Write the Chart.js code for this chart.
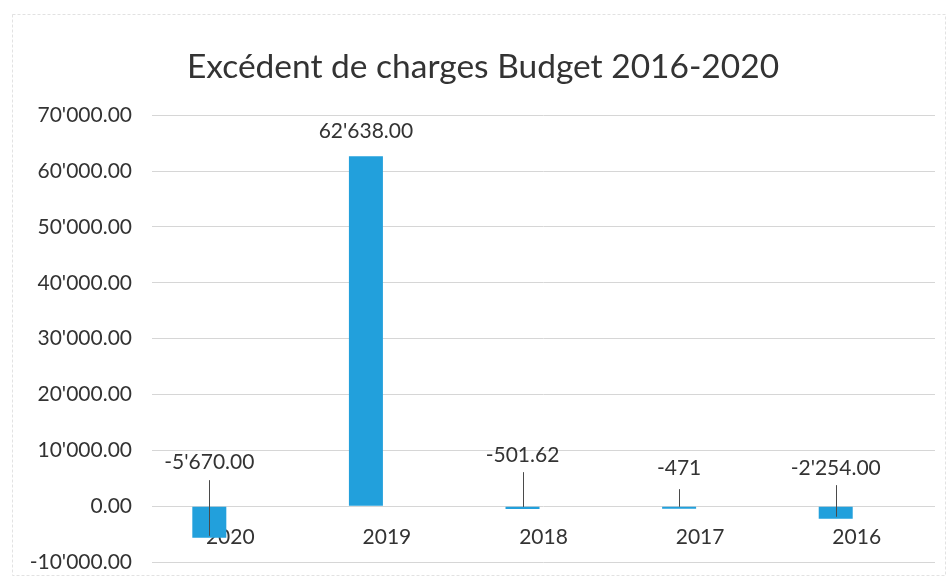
<!DOCTYPE html>
<html>
<head>
<meta charset="utf-8">
<script src="https://cdn.jsdelivr.net/npm/chart.js@4"></script>
<style>
  html, body { margin: 0; padding: 0; background: #ffffff; }
  #wrap { width: 950px; height: 583px; }
</style>
</head>
<body>
<div id="wrap"><canvas id="c" width="950" height="583"></canvas></div>
<script>
// ---- data ----
const categories = ['2020', '2019', '2018', '2017', '2016'];
const values = [-5670, 62638, -501.62, -471, -2254];
const valueLabels = ["-5'670.00", "62'638.00", "-501.62", "-471", "-2'254.00"];
const yMin = -10000;
const yMax = 70000;
const yStep = 10000;
const titleText = 'Excédent de charges Budget 2016-2020';

// ---- style ----
const barColor = '#22A0DC';
const textColor = '#333333';
const gridColor = '#d6d6d6';
const labelLift = [44, 25, 51, 38, 38];
const leaderGap = [18, 0, 17, 21, 17];
const hasLeader = [true, false, true, true, true];

function fmt(v) {
  const neg = v < 0;
  const s = Math.abs(v).toFixed(2);
  let [i, d] = s.split('.');
  i = i.replace(/\B(?=(\d{3})+(?!\d))/g, "'");
  return (neg ? '-' : '') + i + '.' + d;
}

const framePlugin = {
  id: 'frame',
  beforeDraw(chart) {
    const ctx = chart.ctx;
    ctx.save();
    ctx.fillStyle = '#ffffff';
    ctx.fillRect(0, 0, chart.width, chart.height);
    ctx.strokeStyle = '#e2e2e2';
    ctx.lineWidth = 1;
    ctx.setLineDash([3, 2]);
    ctx.strokeRect(12.5, 14.5, 933, 561);
    ctx.restore();
  }
};

const labelPlugin = {
  id: 'valueLabels',
  afterDatasetsDraw(chart) {
    const ctx = chart.ctx;
    const meta = chart.getDatasetMeta(0);
    const y = chart.scales.y;
    ctx.save();
    ctx.font = '21px Lato';
    ctx.fillStyle = textColor;
    ctx.textAlign = 'center';
    ctx.textBaseline = 'middle';
    ctx.strokeStyle = '#4a4a4a';
    ctx.lineWidth = 1;
    meta.data.forEach((bar, i) => {
      const base = y.getPixelForValue(Math.max(values[i], 0));
      const ly = base - labelLift[i];
      ctx.fillText(valueLabels[i], bar.x, ly);
      if (hasLeader[i]) {
        const end = y.getPixelForValue(values[i]) - 2;
        ctx.beginPath();
        ctx.moveTo(Math.round(bar.x) + 0.5, ly + leaderGap[i]);
        ctx.lineTo(Math.round(bar.x) + 0.5, end);
        ctx.stroke();
      }
    });
    ctx.restore();
  }
};

new Chart(document.getElementById('c'), {
  type: 'bar',
  data: {
    labels: categories,
    datasets: [
      {
        label: 'Excédent de charges',
        data: values,
        backgroundColor: barColor,
        borderWidth: 0,
        categoryPercentage: 0.536,
        barPercentage: 0.81
      },
      {
        label: '',
        data: categories.map(() => null),
        backgroundColor: barColor,
        categoryPercentage: 0.536,
        barPercentage: 0.81
      }
    ]
  },
  options: {
    responsive: false,
    animation: false,
    devicePixelRatio: 1,
    layout: { padding: { left: 31, right: 15, top: 0, bottom: 21 } },
    plugins: {
      legend: { display: false },
      tooltip: { enabled: false },
      title: {
        display: true,
        text: titleText,
        color: textColor,
        font: { family: 'Lato', size: 33.5, weight: 'normal' },
        padding: { top: 47, bottom: 28 }
      }
    },
    scales: {
      x: {
        position: { y: 0 },
        afterFit(scale) { scale.height = 0; },
        grid: { display: false, drawTicks: false },
        border: { display: false },
        ticks: {
          color: textColor,
          font: { family: 'Lato', size: 21 },
          padding: 18
        }
      },
      y: {
        min: yMin,
        max: yMax,
        afterFit(scale) { scale.width = 121; },
        grid: { color: gridColor, drawTicks: false },
        border: { display: false },
        ticks: {
          stepSize: yStep,
          color: textColor,
          font: { family: 'Lato', size: 21, lineHeight: 0.05 },
          padding: 20,
          callback: (v) => fmt(v)
        }
      }
    }
  },
  plugins: [framePlugin, labelPlugin]
});
</script>
</body>
</html>
